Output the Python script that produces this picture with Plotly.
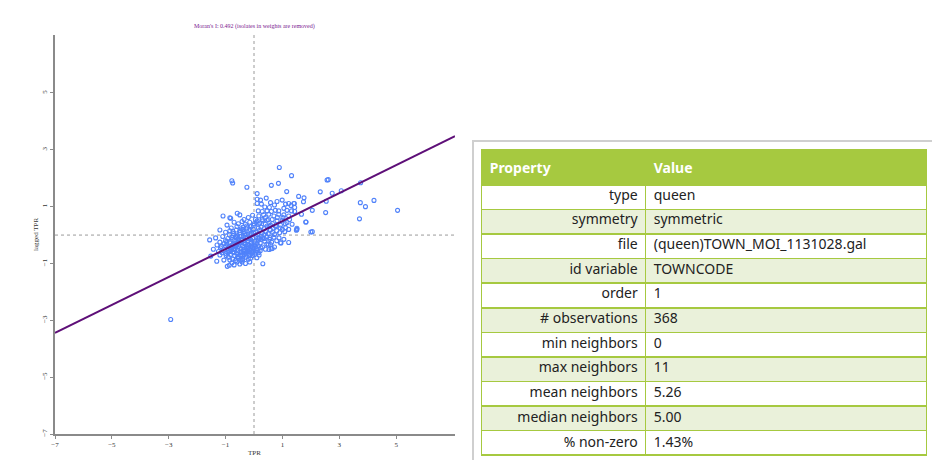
import plotly.graph_objects as go

# ---------------- data ----------------
moran_i = 0.492
title_text = "Moran's I: 0.492 (isolates in weights are removed)"

tpr = [
    # outer / sparse points
    0.89, 1.32, -0.78, -0.75, -0.25, 0.61, 0.86, 1.15, 0.11, 2.57, 2.61, 2.33, 2.75, 3.07,
    3.75, 3.74, 3.92, 4.22, 5.05, 3.71, 2.52, 2.05, 2.00, 2.05, 1.82, 1.57, 1.76, 1.74,
    2.54, 1.42, 1.30, 1.67, 1.51, 1.49, 1.22, 0.31, -2.93,
    # upper right part of cluster
    0.11, 0.23, 0.43, 0.58, 0.11, 0.26, 0.38, 0.54, 0.72, 0.81, 0.99, 1.11, 1.22, 1.40,
    1.43, 1.32, 1.16, 1.05, 0.87, 0.75, 0.61, 0.46, 0.29, 0.15, 0.17, 0.34, 0.52, 0.70,
    0.87, 1.05, 1.22, 1.43, 0.29, 0.46, 0.64, 0.81, 0.99, 1.16, 1.34, 0.11, 0.15, 0.40,
    0.58, 0.75, 0.93, 1.11, 1.22, 1.51, 1.83,
    # band 0.3 .. 0.8
    -1.09, -0.85, -0.82, -0.59, -0.50, -0.35, -0.20, -0.05, -0.70, -0.55, -0.42, -0.30,
    -0.15, 0.00, -0.95, -0.10, -0.60, -0.25, -0.40,
    # band 0 .. 0.3
    -1.20, -1.00, -0.85, -0.72, -0.62, -0.50, -0.45, -0.35, -0.28, -0.18, -0.10, -0.02,
    0.05, 0.12, 0.20, 0.28, 0.35, 0.42, 0.50, 0.58, 0.65, 0.72, 0.80, 0.90, 1.00, 1.08,
    0.25, 0.15, -0.80, -0.65,
    # band -0.3 .. 0
    -1.56, -1.35, -1.20, -1.10, -1.00, -0.92, -0.85, -0.78, -0.70, -0.62, -0.55, -0.48,
    -0.42, -0.35, -0.30, -0.22, -0.15, -0.10, -0.05, 0.02, 0.08, 0.15, 0.22, 0.30, 0.38,
    0.45, 0.55, 0.62, 0.70, 0.80, 0.88, 0.95, 1.05, -0.58, -0.25,
    # band -0.6 .. -0.3
    -1.43, -1.30, -1.18, -1.08, -1.00, -0.92, -0.85, -0.78, -0.72, -0.65, -0.58, -0.52,
    -0.46, -0.40, -0.34, -0.28, -0.22, -0.16, -0.10, -0.04, 0.02, 0.08, 0.15, 0.22, 0.30,
    0.40, 0.50, 0.60, -0.95, -0.60, -0.30, 0.05, -0.75, -1.25,
    # band -0.9 .. -0.6
    -1.52, -1.31, -1.20, -1.06, -1.00, -0.90, -0.82, -0.75, -0.68, -0.60, -0.55, -0.48,
    -0.40, -0.35, -0.28, -0.20, -0.12, -0.05, 0.02, 0.10, 0.18, -0.65, -0.85,
    # band below -0.9
    -0.94, -0.87, -0.78, -0.70, -0.60, -0.50, -0.42, -0.30, -0.15,
    # extra core points
    -0.45, -0.38, -0.20, -0.12, 0.10, -0.68, -0.50, -0.25, -0.05, 0.12, -0.80, -0.55,
    -0.33, -0.08, -0.42, -0.15, 0.25, 0.35, 0.45, 0.55, 0.65, 0.50, 0.40, 0.30, 0.20,
    0.05, -0.02, 0.78, 0.92, 1.10, 1.25, 1.02, 0.82,
    0.93, 0.58, 0.72, 0.53, 0.64, 0.56,
    -0.62, -0.36, -0.18, -0.70, -0.48, -0.26, -0.90, -0.12, 0.00, -0.56, -0.30, -0.82,
    -1.12, -0.40, -0.08, 0.18, -0.66, -0.44,
    -0.95, -0.88, -0.76, -0.64, -0.52, -0.44, -0.36, -0.24, -0.16, -0.06,
    0.04, 0.14, 0.24, -1.05, -0.98, -0.70, -0.58, -0.46, -0.32, -0.20,
    -0.10, 0.06, 0.16, 0.26, -0.86, -0.74, -0.62, -0.50, -0.38, -0.26,
    -0.14, -0.02, 0.08, -1.15, -0.92, -0.54, -0.28, 0.36, 0.46, 0.68,
]

lagged_tpr = [
    # outer / sparse points
    2.38, 2.09, 1.91, 1.83, 1.68, 1.75, 1.82, 1.53, 1.46, 1.94, 1.95, 1.52, 1.47, 1.56,
    1.84, 1.14, 1.00, 1.22, 0.87, 0.57, 0.79, 0.87, 0.11, 0.12, 0.46, 1.36, 1.31, 1.17,
    1.19, 1.11, 1.04, 0.73, 0.24, 0.17, -0.26, -1.01, -2.97,
    # upper right part of cluster
    1.26, 1.23, 1.30, 1.14, 1.11, 1.09, 0.99, 0.97, 1.06, 1.18, 1.23, 1.09, 1.11, 1.11,
    0.97, 0.85, 0.87, 0.94, 0.85, 0.87, 0.83, 0.85, 0.83, 0.85, 0.67, 0.71, 0.73, 0.67,
    0.73, 0.71, 0.67, 0.83, 0.55, 0.52, 0.55, 0.50, 0.52, 0.44, 0.38, 0.50, 0.38, 0.38,
    0.35, 0.32, 0.35, 0.26, 0.20, 0.20, 0.46,
    # band 0.3 .. 0.8
    0.67, 0.61, 0.59, 0.77, 0.71, 0.55, 0.62, 0.70, 0.45, 0.40, 0.48, 0.38,
    0.45, 0.40, 0.35, 0.30, 0.30, 0.25, 0.20,
    # band 0 .. 0.3
    0.18, 0.10, 0.15, 0.05, 0.18, 0.08, 0.22, 0.12, 0.02, 0.15, 0.05, 0.20,
    0.10, 0.02, 0.18, 0.08, 0.22, 0.12, 0.05, 0.18, 0.10, 0.02, 0.15, 0.08, 0.20, 0.12,
    0.28, 0.25, 0.25, -0.05,
    # band -0.3 .. 0
    -0.17, -0.10, -0.25, -0.05, -0.20, -0.12, -0.28, -0.08, -0.20, -0.10, -0.25, -0.05,
    -0.18, -0.28, -0.08, -0.20, -0.02, -0.25, -0.12, -0.22, -0.05, -0.18, -0.28, -0.10,
    -0.22, -0.05, -0.15, -0.25, -0.08, -0.20, -0.10, -0.28, -0.15, -0.02, -0.12,
    # band -0.6 .. -0.3
    -0.50, -0.35, -0.45, -0.55, -0.38, -0.48, -0.58, -0.35, -0.50, -0.42, -0.55, -0.32,
    -0.48, -0.38, -0.58, -0.45, -0.35, -0.52, -0.40, -0.55, -0.35, -0.48, -0.38, -0.55,
    -0.42, -0.50, -0.35, -0.48, -0.32, -0.32, -0.32, -0.60, -0.60, -0.58,
    # band -0.9 .. -0.6
    -0.74, -0.92, -0.70, -0.88, -0.65, -0.78, -0.68, -0.85, -0.72, -0.65, -0.82, -0.70,
    -0.88, -0.68, -0.78, -0.65, -0.82, -0.72, -0.68, -0.80, -0.70, -0.90, -0.88,
    # band below -0.9
    -1.10, -1.06, -0.98, -1.05, -0.95, -1.02, -0.95, -1.00, -0.95,
    # extra core points
    -0.15, -0.05, -0.45, -0.30, -0.30, -0.30, -0.60, -0.60, -0.45, -0.55, -0.45, -0.15,
    0.05, -0.65, -0.72, -0.72, -0.15, 0.02, -0.32, 0.30, 0.40, 0.55, 0.62, 0.50, 0.42,
    0.55, 0.10, 0.30, 0.25, 0.40, 0.55, 0.62, 0.62,
    -0.27, -0.33, -0.42, -0.51, -0.47, -0.09,
    -0.38, -0.52, -0.58, -0.62, -0.25, -0.40, -0.55, -0.15, -0.48, -0.75, -0.62, -0.52,
    -0.62, -0.82, -0.35, -0.12, -0.48, -0.58,
    -0.22, -0.40, -0.15, -0.36, -0.20, -0.62, -0.44, -0.55, -0.10, -0.58,
    -0.28, -0.10, -0.45, -0.30, -0.72, -0.50, -0.78, -0.88, -0.20, -0.85,
    -0.50, -0.40, -0.62, -0.05, 0.00, 0.12, -0.05, 0.15, 0.28, 0.32,
    0.20, 0.34, 0.45, -0.40, -0.62, -0.40, -0.70, -0.12, 0.32, 0.25,
]
assert len(tpr) == len(lagged_tpr)

x_ticks = [-7, -5, -3, -1, 1, 3, 5]
y_ticks = [-7, -5, -3, -1, 1, 3, 5]
x_range = [-7, 7.07]
y_range = [-7, 7.04]

header_labels = ["Property", "Value"]
props = ["type", "symmetry", "file", "id variable", "order", "# observations",
         "min neighbors", "max neighbors", "mean neighbors", "median neighbors", "% non-zero"]
vals = ["queen", "symmetric", "(queen)TOWN_MOI_1131028.gal", "TOWNCODE", "1", "368",
        "0", "11", "5.26", "5.00", "1.43%"]

# ---------------- figure ----------------
W, H = 932, 460
green = "#a6c940"
light = "#eaf1da"
clear = "rgba(0,0,0,0)"

fig = go.Figure()

fig.add_trace(go.Scatter(
    x=tpr, y=lagged_tpr, mode="markers",
    marker=dict(symbol="circle-open", size=4, color="rgb(80,130,250)", line=dict(width=1.1)),
    showlegend=False, hoverinfo="x+y",
))

fit_x = x_range
fit_y = [moran_i * v for v in fit_x]
fig.add_trace(go.Scatter(
    x=fit_x, y=fit_y, mode="lines",
    line=dict(color="#5e0f78", width=2), showlegend=False,
))

row_colors = ["white" if i % 2 == 0 else light for i in range(len(props))]
tbl_x = [481.7 / W, 926.7 / W]
# table frame: header with its labels, row fills and grid lines
fig.add_trace(go.Table(
    domain=dict(x=tbl_x, y=[0, 1 - 150 / H]),
    columnwidth=[164, 281],
    header=dict(values=[f"<b>{h}</b>" for h in header_labels], fill_color=green,
                font=dict(color="white", size=14, family="Noto Sans"),
                align="left", height=33, line=dict(color=green, width=1.5)),
    cells=dict(values=[[""] * len(props), [""] * len(vals)],
               fill_color=[row_colors, row_colors], height=24.55,
               line=dict(color=green, width=1.5)),
))
# body text layer (plotly pads text from the top of each cell, so it is placed separately)
fig.add_trace(go.Table(
    domain=dict(x=tbl_x, y=[0, 1 - 165 / H]),
    columnwidth=[164, 281],
    header=dict(fill_color=clear, line=dict(color=clear, width=0)),
    cells=dict(values=[props, vals], fill_color=clear,
               align=["right", "left"],
               font=dict(color="#222222", size=14, family="Noto Sans"),
               height=24.7, line=dict(color=clear, width=0)),
))

axis_font = dict(family="Liberation Serif", size=7, color="#333333")
fig.update_layout(
    width=W, height=H,
    margin=dict(l=0, r=0, t=0, b=0, autoexpand=False),
    paper_bgcolor="white", plot_bgcolor="white",
    xaxis=dict(domain=[55 / W, 455 / W], range=x_range, tickmode="array", tickvals=x_ticks,
               showline=True, linecolor="#8a8a8a", linewidth=1.5, ticks="outside",
               ticklen=3, tickcolor="#8a8a8a", showgrid=False, zeroline=False,
               tickfont=axis_font, automargin=False),
    yaxis=dict(domain=[1 - 434 / H, 1 - 35 / H], range=y_range, tickmode="array",
               tickvals=y_ticks, tickangle=-90,
               showline=True, linecolor="#8a8a8a", linewidth=1.5, ticks="outside",
               ticklen=3, tickcolor="#8a8a8a", showgrid=False, zeroline=False,
               tickfont=axis_font, automargin=False),
    shapes=[
        dict(type="line", xref="x", yref="y", x0=0, x1=0, y0=y_range[0], y1=y_range[1],
             line=dict(color="#9a9a9a", width=1, dash="dot"), layer="below"),
        dict(type="line", xref="x", yref="y", x0=x_range[0], x1=x_range[1], y0=0, y1=0,
             line=dict(color="#9a9a9a", width=1, dash="dot"), layer="below"),
        dict(type="rect", xref="paper", yref="paper", x0=473 / W, x1=1.01,
             y0=-0.01, y1=1 - 141 / H, line=dict(color="#cfcfcf", width=2),
             fillcolor=clear),
    ],
    annotations=[
        dict(text=title_text, xref="paper", yref="paper", x=255 / W, y=1 - 26 / H,
             xanchor="center", yanchor="middle", showarrow=False,
             font=dict(family="Liberation Serif", size=6, color="#7a2090")),
        dict(text="TPR", xref="paper", yref="paper", x=255 / W, y=1 - 453 / H,
             xanchor="center", yanchor="middle", showarrow=False, font=axis_font),
        dict(text="lagged TPR", xref="paper", yref="paper", x=36 / W, y=1 - 235 / H,
             xanchor="center", yanchor="middle", textangle=-90, showarrow=False,
             font=axis_font),
    ],
)

fig.write_html("out.html")
